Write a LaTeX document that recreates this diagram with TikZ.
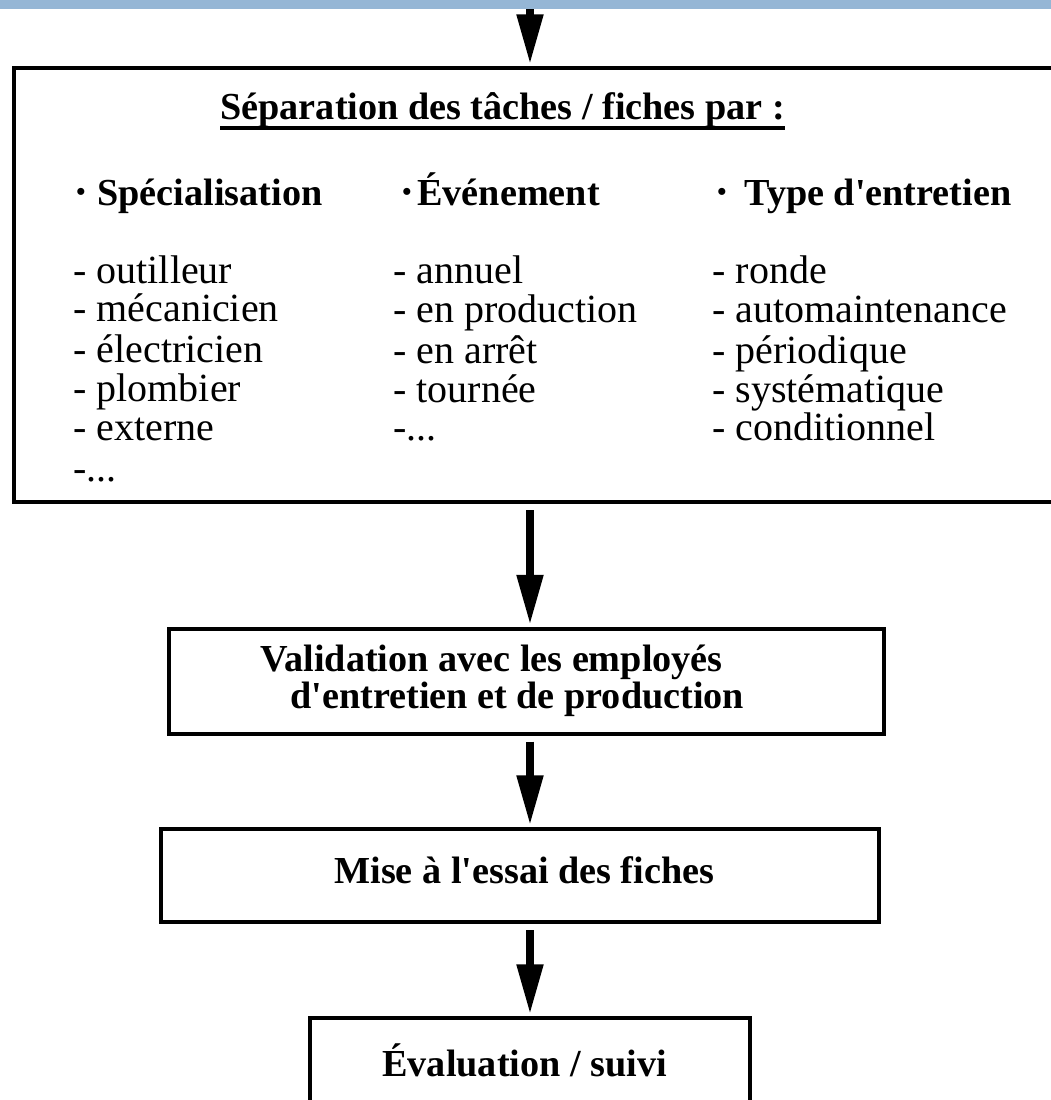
\documentclass[tikz,border=0pt]{standalone}
\usepackage{fontspec}
\setmainfont{Liberation Serif}
\usetikzlibrary{arrows.meta}
\definecolor{barblue}{RGB}{149,182,213}
\newcommand\smallbullet{\raisebox{0.12em}{\fontsize{13pt}{13pt}\selectfont\textbullet}}
\tikzset{
  frame/.style={draw, rectangle, line width=2pt, inner sep=0pt},
  boldtxt/.style={font=\fontsize{19.1pt}{23pt}\selectfont\bfseries, inner sep=0pt, anchor=base west},
  itemtxt/.style={font=\fontsize{20pt}{24pt}\selectfont, inner sep=0pt, anchor=base west},
  flow/.style={line width=4pt, -{Triangle[length=25pt,width=12.5pt]}, shorten <=3pt, shorten >=0.8pt},
}
\begin{document}
\begin{tikzpicture}[x=0.5pt,y=-0.5pt]
  \useasboundingbox (0,0) rectangle (1051,1100);
  \clip (0,0) rectangle (1051,1100);
  \fill[white] (0,0) rectangle (1051,1100);

  % top band
  \node[fill=barblue, inner sep=0pt, minimum width=530pt, minimum height=6pt] (bar) at (525.5,3) {};

  % vertical axis of the flow
  \coordinate (axis) at (530,0);

  % boxes
  \node[frame, minimum width=528pt, minimum height=217pt] (sep) at (542,285) {};
  \node[frame, minimum width=357.5pt, minimum height=52.5pt] (valid) at (526.5,681) {};
  \node[frame, minimum width=359pt, minimum height=46.5pt] (essai) at (520,875.5) {};
  \node[frame, minimum width=220pt, minimum height=56pt] (eval) at (530,1074) {};

  % title of the first box
  \node[boldtxt] (head) at (220,119) {Séparation des tâches / fiches par :};
  \draw[line width=1.8pt] ([yshift=-4.5pt]head.base west) -- ([yshift=-4.5pt]head.base east);

  % column headings
  \node[boldtxt] (h1) at (97,205) {\llap{\smallbullet\hspace{6pt}}Spécialisation};
  \node[boldtxt] (h2) at (417,205) {\llap{\smallbullet\hspace{3pt}}Événement};
  \node[boldtxt] (h3) at (744,205) {\llap{\smallbullet\hspace{9pt}}Type d\textquotesingle entretien};

  % first column
  \node[itemtxt] (a1) at (73,283) {- outilleur};
  \node[itemtxt] (a2) at (73,321) {- mécanicien};
  \node[itemtxt] (a3) at (73,362) {- électricien};
  \node[itemtxt] (a4) at (73,401) {- plombier};
  \node[itemtxt] (a5) at (73,440) {- externe};
  \node[itemtxt] (a6) at (73,481) {-...};

  % second column
  \node[itemtxt] (b1) at (393,283) {- annuel};
  \node[itemtxt] (b2) at (393,322) {- en production};
  \node[itemtxt] (b3) at (393,363) {- en arrêt};
  \node[itemtxt] (b4) at (393,402) {- tournée};
  \node[itemtxt] (b5) at (393,440) {-...};

  % third column
  \node[itemtxt] (c1) at (712,283) {- ronde};
  \node[itemtxt] (c2) at (712,322) {- automaintenance};
  \node[itemtxt] (c3) at (712,363) {- périodique};
  \node[itemtxt] (c4) at (712,402) {- systématique};
  \node[itemtxt] (c5) at (712,440) {- conditionnel};

  % texts of the other boxes
  \node[boldtxt] (v1) at (260,671) {Validation avec les employés};
  \node[boldtxt] (v2) at (290,708) {d\textquotesingle entretien et de production};
  \node[boldtxt] (m1) at (334,883) {Mise à l\textquotesingle essai des fiches};
  \node[boldtxt] (e1) at (382,1076) {Évaluation / suivi};

  % connectors
  \draw[flow, shorten <=0pt] (bar.south -| axis) -- (sep.north -| axis);
  \draw[flow] (sep.south -| axis) -- (valid.north -| axis);
  \draw[flow] (valid.south -| axis) -- (essai.north -| axis);
  \draw[flow] (essai.south -| axis) -- (eval.north -| axis);
\end{tikzpicture}
\end{document}
